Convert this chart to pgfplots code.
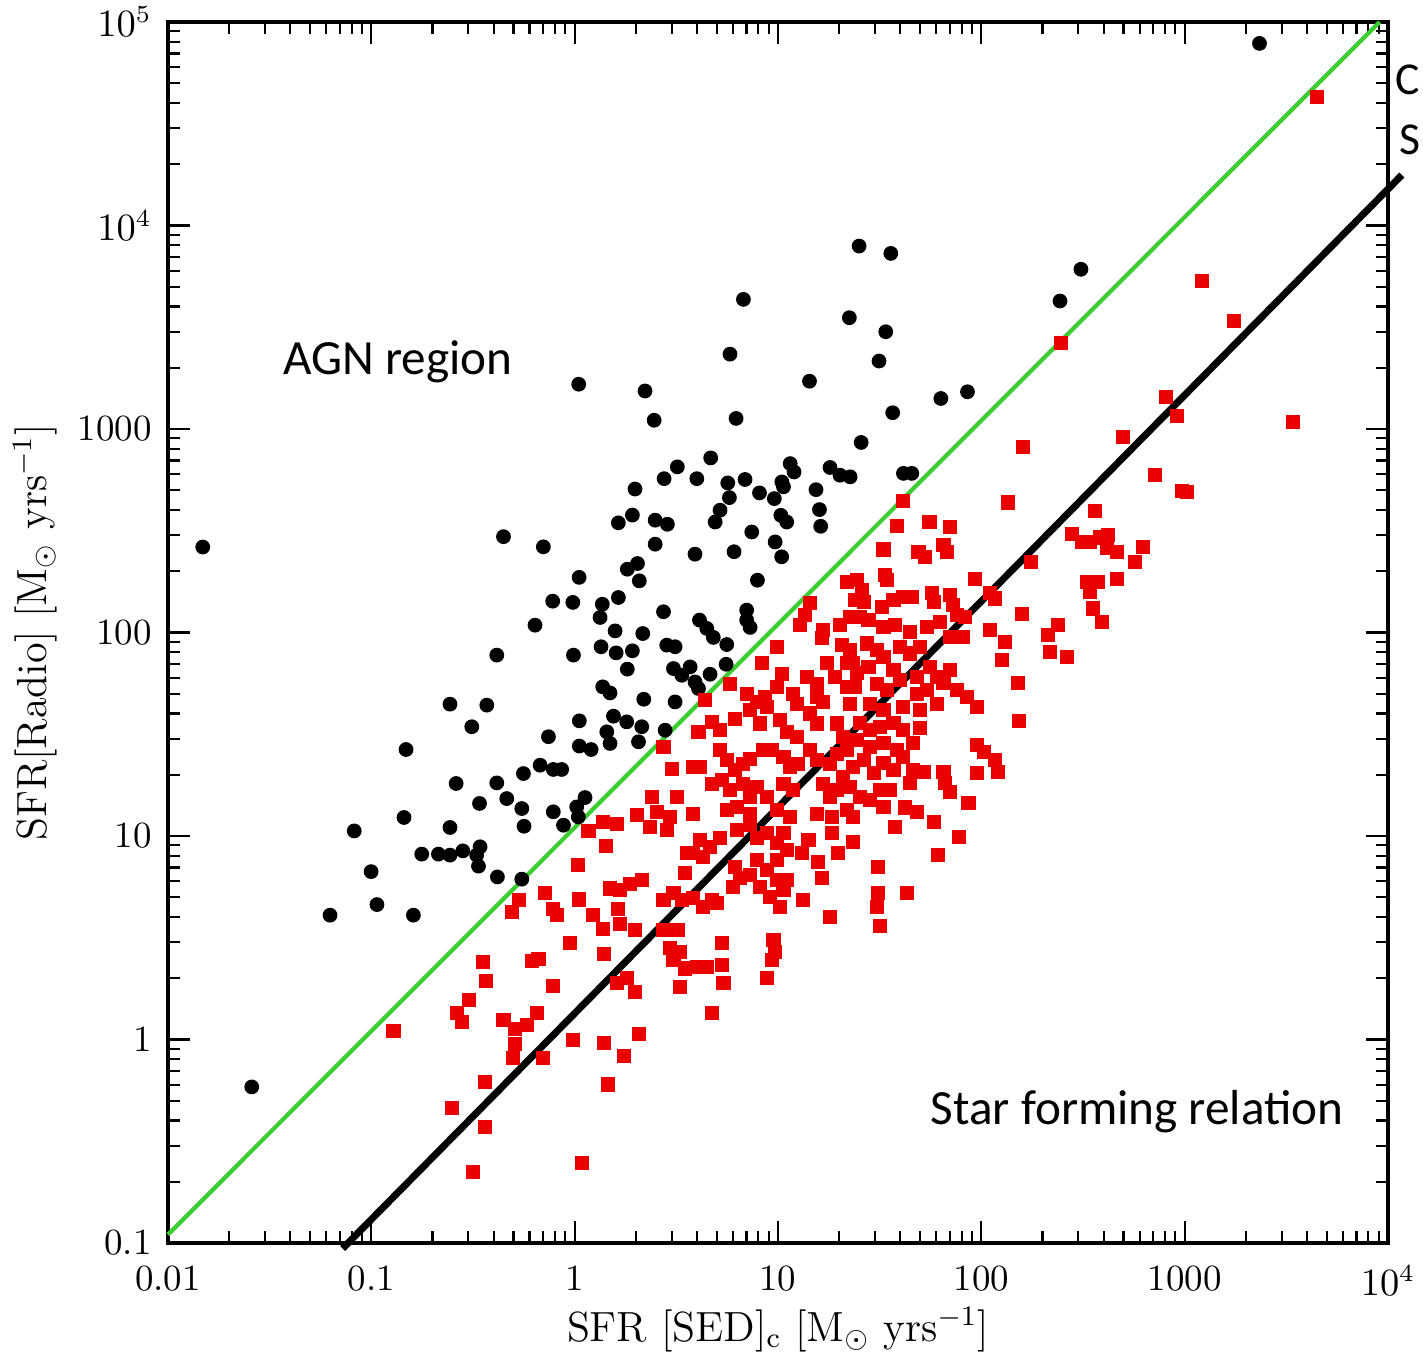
\documentclass[border=0pt]{standalone}
\usepackage{fontspec}
\usepackage{pgfplots}
\pgfplotsset{compat=1.18}
\newfontfamily\calibri{Carlito}
\definecolor{ptred}{RGB}{235,0,0}
\definecolor{lgreen}{RGB}{60,205,50}
\begin{document}
\begin{tikzpicture}
\begin{axis}[
  xmode=log, ymode=log,
  scale only axis, width=12.2cm, height=12.21cm,
  xmin=0.01, xmax=10000, ymin=0.1, ymax=100000,
  xtick={0.01,0.1,1,10,100,1000,10000},
  xticklabels={0.01,0.1,1,10,100,1000,$10^4$},
  ytick={0.1,1,10,100,1000,10000,100000},
  yticklabels={0.1,1,10,100,1000,$10^4$,$10^5$},
  tick label style={font=\fontsize{10.5}{12}\selectfont},
  xticklabel shift=0.1cm,
  yticklabel shift=0.04cm,
  major tick length=0.22cm, minor tick length=0.12cm,
  every tick/.style={black, line width=0.6pt},
  axis line style={line width=0.9pt},
  xlabel={SFR [SED]$_{\mathrm{c}}$ [M$_\odot$ yrs$^{-1}$]},
  ylabel={SFR[Radio] [M$_\odot$ yrs$^{-1}$]},
  label style={font=\fontsize{12}{14}\selectfont},
  xlabel style={at={(axis description cs:0.5,-0.071)}, anchor=center},
  ylabel style={at={(axis description cs:-0.109,0.5)}, anchor=center},
  clip=false,
]
\coordinate (bl) at (rel axis cs:0,0);
\coordinate (tr) at (rel axis cs:1,1);
\addplot[lgreen, line width=1.2pt] coordinates {(0.01,0.11) (9091,100000)};
% AGN (black) points, log10 values
\addplot[only marks, mark=*, mark size=1.9pt, black] table[row sep=\\, x expr={pow(10,\thisrow{lx})}, y expr={pow(10,\thisrow{ly})}] {
lx ly\\
-1.829 2.420\\
-1.588 -0.233\\
-1.084 1.025\\
-1.001 0.825\\
-0.972 0.663\\
-1.203 0.611\\
0.02 3.22\\
0.346 3.187\\
0.297 2.705\\
0.284 2.577\\
0.215 2.539\\
-0.350 2.471\\
-0.154 2.421\\
0.309 2.339\\
0.259 2.311\\
0.318 2.254\\
0.022 2.271\\
0.215 2.172\\
-0.108 2.154\\
-0.009 2.148\\
0.136 2.139\\
0.125 2.074\\
-0.195 2.036\\
0.199 2.008\\
0.335 1.995\\
-0.383 1.889\\
-0.006 1.889\\
0.130 1.930\\
0.204 1.900\\
0.284 1.910\\
0.259 1.820\\
0.138 1.733\\
0.174 1.703\\
-0.613 1.648\\
-0.432 1.643\\
0.340 1.672\\
-0.506 1.537\\
0.023 1.566\\
0.191 1.589\\
0.256 1.561\\
0.330 1.537\\
0.158 1.512\\
-0.129 1.488\\
0.174 1.455\\
0.314 1.463\\
0.023 1.442\\
0.081 1.425\\
-0.829 1.425\\
-0.170 1.348\\
-0.105 1.327\\
-0.064 1.327\\
-0.252 1.307\\
-0.583 1.258\\
-0.383 1.261\\
-0.468 1.160\\
-0.334 1.184\\
-0.260 1.135\\
-0.105 1.119\\
0.051 1.189\\
0.010 1.143\\
0.018 1.094\\
-0.055 1.053\\
-0.249 1.048\\
-0.839 1.091\\
-0.613 1.042\\
-0.752 0.911\\
-0.670 0.911\\
-0.613 0.906\\
-0.550 0.927\\
-0.465 0.947\\
-0.482 0.906\\
-0.473 0.852\\
-0.380 0.799\\
-0.260 0.788\\
-0.793 0.611\\
0.592 2.385\\
0.784 2.397\\
1.018 2.372\\
0.899 2.257\\
0.437 2.102\\
0.614 2.061\\
0.650 2.020\\
0.682 1.976\\
0.748 1.941\\
0.846 2.110\\
0.846 2.061\\
0.863 2.025\\
0.453 1.938\\
0.494 1.930\\
0.486 1.823\\
0.568 1.831\\
0.527 1.790\\
0.592 1.757\\
0.609 1.725\\
0.666 1.795\\
0.745 1.844\\
0.494 1.659\\
0.445 1.520\\
1.399 3.899\\
1.555 3.863\\
0.830 3.637\\
1.351 3.547\\
1.530 3.478\\
0.764 3.368\\
1.497 3.334\\
1.155 3.235\\
1.801 3.150\\
1.932 3.183\\
1.564 3.080\\
0.794 3.052\\
0.391 3.043\\
1.409 2.934\\
0.669 2.858\\
0.505 2.814\\
0.440 2.756\\
0.601 2.756\\
0.753 2.735\\
0.838 2.752\\
1.060 2.830\\
1.079 2.789\\
1.256 2.811\\
1.305 2.773\\
1.355 2.765\\
1.019 2.740\\
1.027 2.716\\
0.909 2.686\\
0.761 2.663\\
0.982 2.658\\
1.187 2.702\\
0.715 2.601\\
0.691 2.543\\
1.014 2.576\\
1.043 2.543\\
1.204 2.604\\
1.210 2.522\\
0.396 2.552\\
0.456 2.532\\
0.871 2.494\\
0.396 2.434\\
0.986 2.445\\
1.617 2.782\\
1.658 2.782\\
2.490 3.785\\
2.387 3.629\\
3.368 4.895\\
};
% star forming (red) points, log10 values
\addplot[only marks, mark=square*, mark size=1.8pt, ptred, mark options={rounded corners=0.8pt}] table[row sep=\\, x expr={pow(10,\thisrow{lx})}, y expr={pow(10,\thisrow{ly})}] {
lx ly\\
0.068 1.025\\
0.141 1.070\\
0.207 1.058\\
0.154 0.950\\
0.305 1.102\\
0.379 1.193\\
0.404 1.119\\
0.371 1.045\\
0.018 0.857\\
-0.146 0.720\\
0.023 0.688\\
-0.272 0.684\\
-0.309 0.627\\
-0.105 0.643\\
-0.088 0.611\\
0.092 0.611\\
0.141 0.545\\
0.174 0.742\\
0.223 0.734\\
0.272 0.766\\
0.330 0.783\\
0.215 0.643\\
0.223 0.570\\
0.297 0.537\\
-0.023 0.475\\
-0.452 0.383\\
-0.436 0.289\\
-0.211 0.386\\
-0.178 0.394\\
-0.105 0.263\\
0.145 0.420\\
-0.518 0.194\\
-0.580 0.129\\
-0.555 0.088\\
-0.891 0.042\\
-0.350 0.096\\
-0.293 0.050\\
-0.236 0.071\\
-0.183 0.129\\
-0.293 -0.022\\
-0.305 -0.093\\
-0.154 -0.093\\
-0.441 -0.211\\
-0.006 -0.003\\
0.145 -0.019\\
0.243 -0.081\\
0.318 0.025\\
0.163 -0.221\\
-0.605 -0.335\\
-0.441 -0.429\\
-0.498 -0.650\\
0.035 -0.606\\
0.207 0.276\\
0.256 0.301\\
0.297 0.235\\
1.338 2.249\\
1.158 2.143\\
1.133 2.085\\
1.109 2.036\\
1.223 2.012\\
1.215 1.971\\
1.305 2.036\\
1.314 1.938\\
1.355 1.913\\
0.994 1.930\\
0.920 1.848\\
1.019 1.798\\
0.994 1.733\\
1.141 1.782\\
1.191 1.749\\
1.240 1.848\\
1.338 1.848\\
1.281 1.782\\
0.764 1.749\\
0.846 1.700\\
0.896 1.659\\
0.937 1.684\\
1.076 1.700\\
1.092 1.651\\
1.191 1.684\\
1.223 1.659\\
1.338 1.733\\
1.355 1.651\\
0.641 1.667\\
0.789 1.577\\
0.863 1.618\\
0.912 1.553\\
0.945 1.635\\
1.010 1.569\\
1.043 1.512\\
1.092 1.487\\
1.158 1.602\\
1.191 1.553\\
1.289 1.553\\
1.322 1.487\\
0.674 1.561\\
0.609 1.512\\
0.715 1.520\\
0.437 1.438\\
0.478 1.331\\
0.584 1.339\\
0.617 1.339\\
0.715 1.421\\
0.748 1.372\\
0.789 1.323\\
0.830 1.356\\
0.863 1.380\\
0.928 1.421\\
0.969 1.421\\
1.027 1.389\\
1.060 1.339\\
1.100 1.356\\
1.158 1.421\\
1.191 1.372\\
1.256 1.356\\
1.289 1.405\\
1.338 1.421\\
1.322 1.290\\
0.674 1.257\\
0.723 1.274\\
0.764 1.225\\
0.830 1.257\\
0.863 1.192\\
0.896 1.241\\
0.945 1.192\\
1.027 1.257\\
1.076 1.225\\
1.223 1.257\\
1.256 1.192\\
1.289 1.225\\
0.502 1.192\\
0.584 1.110\\
0.469 1.094\\
0.748 1.126\\
0.797 1.143\\
0.863 1.110\\
0.994 1.126\\
1.060 1.094\\
1.191 1.110\\
1.264 1.094\\
1.338 1.126\\
0.453 1.030\\
0.617 0.981\\
0.584 0.915\\
0.666 0.948\\
0.715 0.989\\
0.551 0.915\\
0.633 0.899\\
0.797 1.030\\
0.863 1.054\\
0.896 0.989\\
0.945 1.013\\
0.994 0.964\\
1.027 1.013\\
1.043 0.931\\
0.994 0.882\\
1.117 0.915\\
1.150 0.981\\
1.199 0.874\\
1.264 1.013\\
1.297 0.915\\
0.543 0.817\\
0.789 0.849\\
0.814 0.792\\
0.781 0.751\\
0.863 0.808\\
0.896 0.882\\
0.912 0.751\\
0.945 0.833\\
0.961 0.702\\
0.994 0.784\\
1.027 0.735\\
1.010 0.653\\
1.043 0.784\\
1.125 0.686\\
1.215 0.792\\
1.256 0.604\\
0.437 0.686\\
0.486 0.718\\
0.527 0.686\\
0.584 0.694\\
0.633 0.653\\
0.674 0.686\\
0.699 0.669\\
0.437 0.538\\
0.510 0.538\\
0.469 0.448\\
0.518 0.431\\
0.486 0.390\\
0.543 0.349\\
0.601 0.358\\
0.650 0.358\\
0.723 0.472\\
0.723 0.366\\
0.732 0.276\\
0.519 0.259\\
0.674 0.128\\
0.978 0.489\\
0.986 0.431\\
0.969 0.390\\
0.945 0.300\\
1.614 2.648\\
1.585 2.523\\
1.745 2.545\\
1.847 2.520\\
1.519 2.408\\
1.691 2.397\\
1.724 2.369\\
1.814 2.430\\
1.830 2.397\\
1.527 2.282\\
1.535 2.258\\
1.388 2.258\\
1.412 2.208\\
1.380 2.159\\
1.421 2.151\\
1.970 2.261\\
1.511 2.126\\
1.568 2.159\\
1.617 2.176\\
1.658 2.176\\
1.757 2.192\\
1.765 2.151\\
1.847 2.184\\
1.863 2.135\\
1.880 2.085\\
2.044 2.192\\
2.068 2.167\\
1.355 2.077\\
1.404 2.077\\
1.445 2.061\\
1.519 2.028\\
1.576 2.036\\
1.650 2.004\\
1.732 2.028\\
1.798 2.053\\
1.847 1.979\\
1.921 2.077\\
1.912 1.979\\
2.044 2.012\\
2.117 1.954\\
2.101 1.864\\
1.437 1.946\\
1.486 1.913\\
1.519 1.880\\
1.601 1.930\\
1.650 1.897\\
1.699 1.930\\
1.371 1.848\\
1.388 1.799\\
1.445 1.831\\
1.568 1.815\\
1.601 1.766\\
1.683 1.782\\
1.748 1.831\\
1.781 1.782\\
1.847 1.815\\
1.814 1.750\\
1.380 1.733\\
1.486 1.749\\
1.535 1.717\\
1.683 1.700\\
1.732 1.717\\
1.880 1.717\\
1.929 1.684\\
1.978 1.635\\
1.453 1.651\\
1.519 1.618\\
1.617 1.635\\
1.699 1.618\\
1.781 1.651\\
2.183 1.565\\
1.404 1.554\\
1.453 1.521\\
1.503 1.537\\
1.568 1.554\\
1.617 1.521\\
1.699 1.529\\
1.388 1.472\\
1.453 1.439\\
1.519 1.455\\
1.585 1.422\\
1.666 1.455\\
1.371 1.340\\
1.421 1.373\\
1.470 1.308\\
1.519 1.357\\
1.568 1.324\\
1.617 1.390\\
1.666 1.324\\
1.716 1.316\\
1.978 1.447\\
2.011 1.414\\
2.068 1.373\\
2.084 1.316\\
1.978 1.308\\
1.814 1.316\\
1.822 1.259\\
1.847 1.218\\
1.937 1.163\\
1.355 1.242\\
1.404 1.193\\
1.453 1.177\\
1.503 1.226\\
1.552 1.226\\
1.519 1.144\\
1.371 1.095\\
1.650 1.259\\
1.625 1.140\\
1.683 1.119\\
1.576 1.045\\
1.765 1.070\\
1.371 0.972\\
1.888 0.993\\
1.789 0.906\\
1.494 0.849\\
1.494 0.718\\
1.486 0.652\\
1.634 0.718\\
1.503 0.557\\
3.084 3.728\\
3.244 3.532\\
2.390 3.421\\
2.907 3.159\\
2.961 3.065\\
3.535 3.034\\
2.699 2.962\\
2.207 2.913\\
2.854 2.773\\
2.985 2.696\\
3.010 2.691\\
2.133 2.639\\
2.559 2.596\\
2.444 2.482\\
2.494 2.446\\
2.535 2.446\\
2.584 2.467\\
2.625 2.478\\
2.617 2.413\\
2.666 2.396\\
2.797 2.421\\
2.756 2.347\\
2.243 2.347\\
2.518 2.249\\
2.576 2.249\\
2.535 2.200\\
2.666 2.265\\
2.551 2.118\\
2.592 2.052\\
2.199 2.093\\
2.379 2.036\\
2.330 1.987\\
2.338 1.905\\
2.420 1.880\\
2.182 1.752\\
3.653 4.633\\
};
\addplot[black, line width=2pt] coordinates {(0.0723,0.094) (11700,17700)};
\node[font=\calibri\fontsize{14}{16}\selectfont] at (axis cs:0.135,2130) {AGN region};
\node[font=\calibri\fontsize{14}{16}\selectfont] at (axis cs:584,0.44) {Star forming relation};
\end{axis}
\node[font=\calibri\fontsize{13}{15}\selectfont, anchor=east, inner sep=0pt] at ([xshift=0.33cm,yshift=-0.58cm]tr) {C};
\node[font=\calibri\fontsize{13}{15}\selectfont, anchor=east, inner sep=0pt] at ([xshift=0.33cm,yshift=-1.18cm]tr) {S};
\pgfresetboundingbox
\path[use as bounding box] ([xshift=-1.68cm,yshift=-1.13cm]bl) rectangle ([xshift=0.35cm,yshift=0.22cm]tr);
\end{tikzpicture}
\end{document}
